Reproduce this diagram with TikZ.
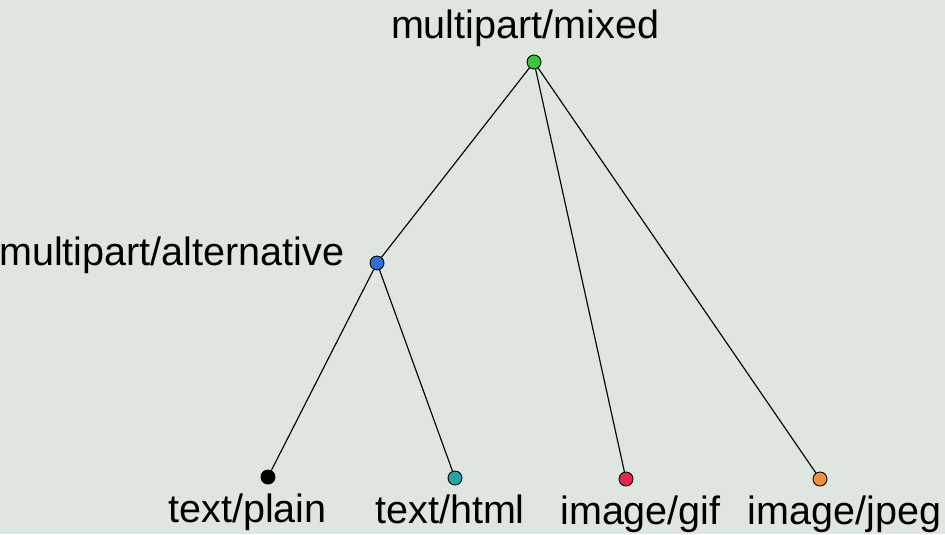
\documentclass[tikz,border=0pt]{standalone}
\usepackage{fontspec}
\setmainfont{Liberation Sans}
\usetikzlibrary{positioning}
\definecolor{fundo}{HTML}{DFE6E0}
\definecolor{verde}{HTML}{3CC43C}
\definecolor{azul}{HTML}{2F6ED6}
\definecolor{turquesa}{HTML}{26A3A6}
\definecolor{vermelho}{HTML}{E22A48}
\definecolor{laranja}{HTML}{F0903E}
\tikzset{
  ponto/.style={circle, draw=black, line width=0.5pt, minimum size=0.28cm, inner sep=0pt},
  rotulo/.style={inner sep=0pt, font=\fontsize{22.5}{27}\selectfont},
  ramo/.style={line width=0.65pt, color=black}
}

\begin{document}
\begin{tikzpicture}[x=0.02cm, y=-0.02cm]
  \fill[fundo] (0,0) rectangle (945,534);
  \useasboundingbox (0,0) rectangle (945,534);
  % pontos da arvore
  \node (mixed) [ponto, fill=verde] at (534,62) {};
  \node (alt) [ponto, fill=azul] at (377,263) {};
  \node (plain) [ponto, fill=black] at (268,477) {};
  \node (html) [ponto, fill=turquesa] at (455,478) {};
  \node (gif) [ponto, fill=vermelho] at (626,479) {};
  \node (jpeg) [ponto, fill=laranja] at (820,479) {};
  % rotulos
  \node (lmixed) [rotulo, above=0.16cm of mixed, xshift=-0.18cm] {multipart/mixed};
  \node (lalt) [rotulo, left=0.5cm of alt, yshift=0.16cm] {multipart/alternative};
  \node (lplain) [rotulo, below=0.18cm of plain, xshift=-0.41cm] {text/plain};
  \node (lhtml) [rotulo, below=0.18cm of html, xshift=-0.1cm] {text/html};
  \node (lgif) [rotulo, below=0.18cm of gif, xshift=0.29cm] {image/gif};
  \node (ljpeg) [rotulo, below=0.18cm of jpeg, xshift=0.49cm] {image/jpeg};
  % ramos
  \draw [ramo] (mixed) -- (alt); \draw [ramo] (mixed) -- (gif);
  \draw [ramo] (mixed) -- (jpeg); \draw [ramo] (alt) -- (plain);
  \draw [ramo] (alt) -- (html);
\end{tikzpicture}
\end{document}
